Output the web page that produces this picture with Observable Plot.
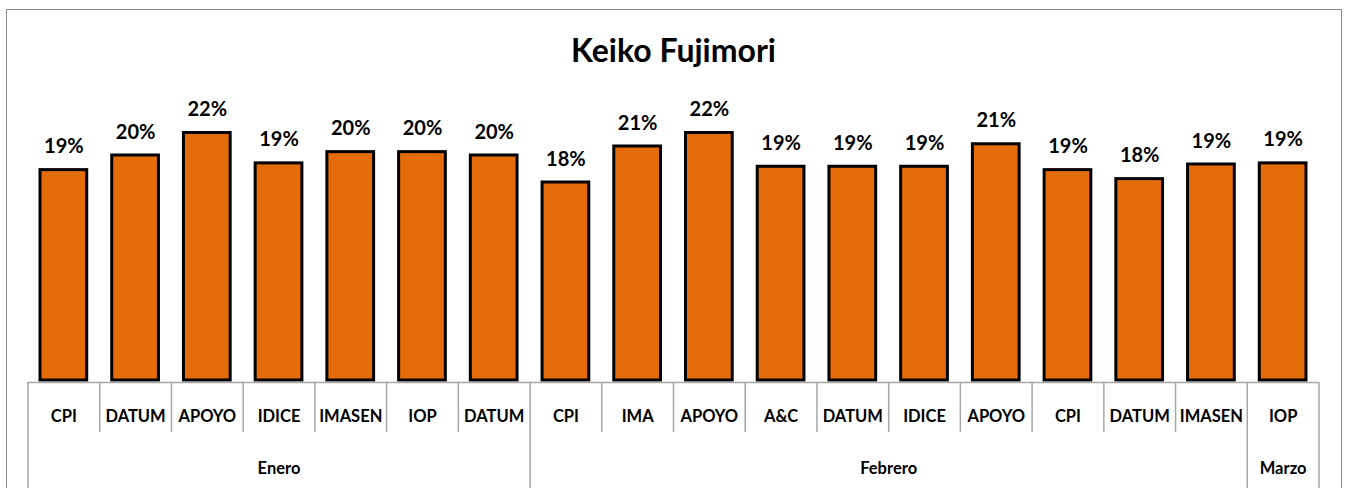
<!DOCTYPE html>
<html><head><meta charset="utf-8">
<script src="https://cdn.jsdelivr.net/npm/d3@7"></script>
<script src="https://cdn.jsdelivr.net/npm/@observablehq/plot@0.6"></script>
<style>
html,body{margin:0;padding:0;overflow:hidden;background:#fff}
#wrap{position:relative;width:1348px;height:488px}
#border{position:absolute;left:6px;top:9px;width:1336px;height:600px;border:1.5px solid #8c8c8c;box-sizing:border-box;pointer-events:none}
</style></head><body>
<div id="wrap"><div id="chart"></div><div id="border"></div></div>
<script>
// ---- data ----
const title = "Keiko Fujimori";
const pollsters = ["CPI","DATUM","APOYO","IDICE","IMASEN","IOP","DATUM","CPI","IMA","APOYO","A&C","DATUM","IDICE","APOYO","CPI","DATUM","IMASEN","IOP"];
const values = [18.7,20.0,22.0,19.3,20.3,20.3,20.0,17.6,20.8,22.0,19.0,19.0,19.0,21.0,18.7,17.9,19.2,19.3];
const months = ["Enero","Febrero","Marzo"];
const monthCounts = [7,10,1];

// ---- derived tables ----
const data = pollsters.map((p, i) => ({i, pollster: p, value: values[i]}));
const groups = [];
let start = 0;
months.forEach((m, k) => { groups.push({month: m, start, end: start + monthCounts[k]}); start += monthCounts[k]; });
const boundaries = [0, ...groups.map(g => g.end)];
const inner = d3.range(1, pollsters.length).filter(i => !boundaries.includes(i));

const font = "Lato, 'Open Sans', sans-serif";
const plot = Plot.plot({
  width: 1348, height: 488,
  marginLeft: 27.5, marginRight: 29.5, marginTop: 98.75, marginBottom: 108,
  x: {domain: [0, pollsters.length], axis: null},
  y: {domain: [0, 25], axis: null},
  style: {fontFamily: font, background: "white", overflow: "visible"},
  marks: [
    Plot.rectY(data, {x1: "i", x2: d => d.i + 1, y1: 0, y2: "value",
      fill: "#E46C0A", stroke: "#000", strokeWidth: 3, insetLeft: 12.5, insetRight: 12.5}),
    Plot.ruleY([0], {x1: 0, x2: pollsters.length, stroke: "#a6a6a6", strokeWidth: 1.5, dy: 2}),
    Plot.ruleX(inner, {x: d => d, stroke: "#a6a6a6", strokeWidth: 1.5, insetTop: 283.25, insetBottom: -52}),
    Plot.ruleX(boundaries, {x: d => d, stroke: "#a6a6a6", strokeWidth: 1.5, insetTop: 283.25, insetBottom: -112}),
    Plot.text(data, {x: d => d.i + 0.5, y: "value", text: d => Math.round(d.value) + "%",
      lineAnchor: "bottom", dy: -17, fontSize: 20, fontWeight: "bold", fill: "#000"}),
    Plot.text(data, {x: d => d.i + 0.5, frameAnchor: "bottom", text: "pollster",
      lineAnchor: "middle", dy: 36, fontSize: 16.5, fontWeight: "bold", fill: "#000"}),
    Plot.text(groups, {x: d => (d.start + d.end) / 2, frameAnchor: "bottom", text: "month",
      lineAnchor: "middle", dy: 88, fontSize: 16.5, fontWeight: "bold", fill: "#000"}),
    Plot.text([title], {frameAnchor: "top", text: d => d, lineAnchor: "bottom", dy: -37,
      fontSize: 32, fontWeight: "bold", fill: "#000"})
  ]
});
document.getElementById("chart").appendChild(plot);
</script>
</body></html>
